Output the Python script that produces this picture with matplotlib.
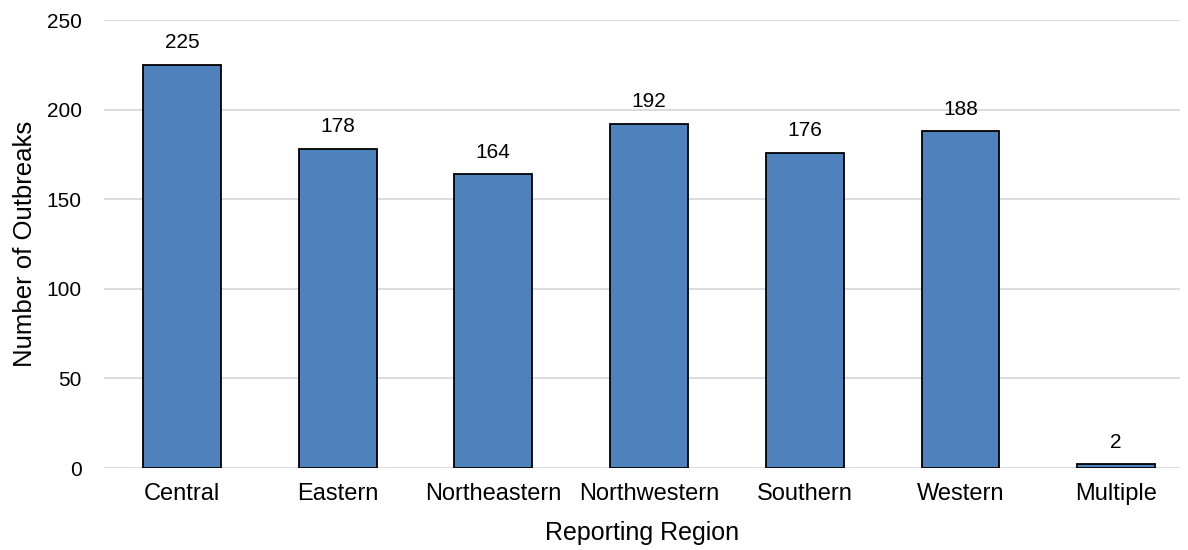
import matplotlib.pyplot as plt
import numpy as np

plt.rcParams['font.family'] = ['Liberation Sans', 'DejaVu Sans']

regions = ['Central', 'Eastern', 'Northeastern', 'Northwestern', 'Southern', 'Western', 'Multiple']
outbreaks = [225, 178, 164, 192, 176, 188, 2]

fig = plt.figure(figsize=(11.88, 5.5), dpi=100)
ax = fig.add_axes([104/1188, 82/550, (1180-104)/1188, (468-20)/550])

x = np.arange(len(regions))
bars = ax.bar(x, outbreaks, width=0.5, color='#4F81BD', edgecolor='black', linewidth=1.3, zorder=3)

# value labels above bars
for xi, v in zip(x, outbreaks):
    ax.text(xi, v + 7, str(v), ha='center', va='bottom', fontsize=15)

ax.set_ylim(0, 250)
ax.set_yticks(range(0, 251, 50))
ax.set_xlim(-0.5, 6.41)
ax.set_xticks(x)
ax.set_xticklabels(regions, fontsize=17)
ax.tick_params(axis='both', length=0)
ax.tick_params(axis='y', pad=16, labelsize=15)
ax.tick_params(axis='x', pad=11)
ax.yaxis.grid(True, color='#D9D9D9', linewidth=1.3, zorder=0)
for s in ax.spines.values():
    s.set_visible(False)

ax.set_xlabel('Reporting Region', fontsize=18, labelpad=11)
ax.set_ylabel('Number of Outbreaks', fontsize=18.5, labelpad=7)

plt.savefig('out.png', dpi=100)
